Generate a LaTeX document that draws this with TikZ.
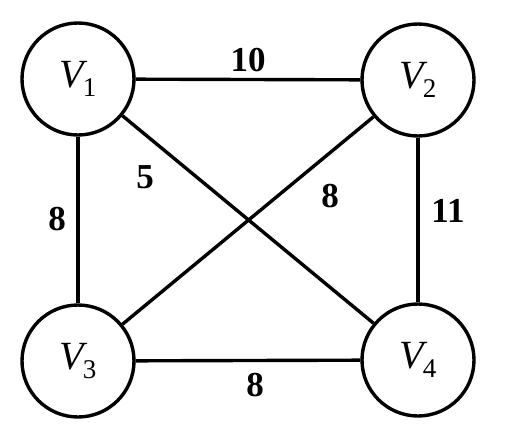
\documentclass[tikz,border=0pt]{standalone}
\usepackage{fontspec}
\setmainfont{Liberation Serif}
\newcommand{\vlab}[1]{{\fontsize{40}{42}\selectfont\itshape V}\kern-1pt\raisebox{-9pt}{\fontsize{27}{29}\selectfont #1}}
\begin{document}
\begin{tikzpicture}[x=1pt,y=-1pt,
  vertex/.style={draw,circle,line width=3.4pt,minimum size=112pt,inner sep=0pt},
  edge/.style={line width=3.4pt},
  wlabel/.style={font=\fontsize{35}{38}\selectfont\bfseries,inner sep=0pt}]
\useasboundingbox (0,0) rectangle (506,442);
\node[vertex] (v1) at (78,79) {\vlab{1}};
\node[vertex] (v2) at (418,80) {\vlab{2}};
\node[vertex] (v3) at (78,361) {\vlab{3}};
\node[vertex] (v4) at (418,360) {\vlab{4}};
\draw[edge] (v1) -- (v2);
\draw[edge] (v1) -- (v3);
\draw[edge] (v1) -- (v4);
\draw[edge] (v2) -- (v3);
\draw[edge] (v2) -- (v4);
\draw[edge] (v3) -- (v4);
\node[wlabel] (l12) at (248,60) {10};
\node[wlabel] (l13) at (57,219) {8};
\node[wlabel] (l14) at (145,177) {5};
\node[wlabel] (l23) at (330,196) {8};
\node[wlabel] (l24) at (448,211) {11};
\node[wlabel] (l34) at (255,385) {8};
\end{tikzpicture}
\end{document}
